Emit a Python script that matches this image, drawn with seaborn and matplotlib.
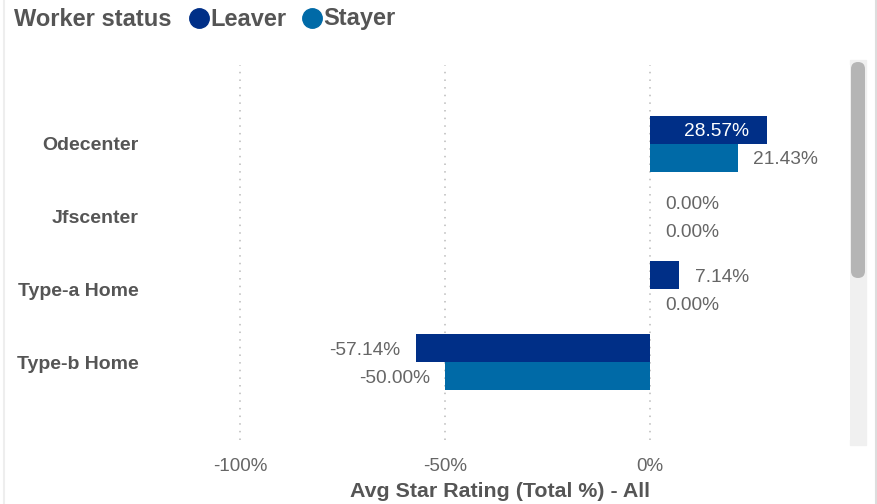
import matplotlib
matplotlib.use("Agg")
import matplotlib.pyplot as plt
from matplotlib.lines import Line2D
from matplotlib.patches import FancyBboxPatch, Rectangle
from matplotlib.transforms import IdentityTransform
import seaborn as sns
import pandas as pd

categories = ["Odecenter", "Jfscenter", "Type-a Home", "Type-b Home"]
leaver = [0.2857, 0.0, 0.0714, -0.5714]
stayer = [0.2143, 0.0, 0.0, -0.5000]
series = ["Leaver", "Stayer"]
colors = ["#002F87", "#006AA7"]
xticks = [-1.0, -0.5, 0.0]
xticklabels = ["-100%", "-50%", "0%"]

df = pd.DataFrame({
    "cat": categories * 2,
    "value": leaver + stayer,
    "status": ["Leaver"] * len(categories) + ["Stayer"] * len(categories),
})

sns.set_theme(style="white")
plt.rcParams["font.family"] = ["Liberation Sans", "DejaVu Sans"]

W, H = 878, 504
fig = plt.figure(figsize=(W / 100, H / 100), dpi=100)
ax = fig.add_axes([150 / W, 1 - 440 / H, 700 / W, 375 / H])

sns.barplot(data=df, y="cat", x="value", hue="status", palette=colors,
            hue_order=series, order=categories, width=0.77, orient="h",
            saturation=1, ax=ax, legend=False, linewidth=0, edgecolor="none")

ax.set_xlim(-1.22, 0.488)
ax.set_ylim(4.07, -1.08)
for s in ax.spines.values():
    s.set_visible(False)
ax.set_xticks(xticks)
ax.set_xticklabels(xticklabels, fontsize=13.5, color="#666666")
ax.tick_params(axis="x", length=0, pad=13)
ax.tick_params(axis="y", length=0, pad=8)
for lab in ax.get_yticklabels():
    lab.set_fontsize(14)
    lab.set_fontweight("bold")
    lab.set_color("#555555")
for xv in xticks:
    ax.axvline(xv, color="#BBBBBB", linestyle=(0, (1, 4)), linewidth=1.1, zorder=0)
ax.set_ylabel("")
ax.set_xlabel("Avg Star Rating (Total %) - All", fontsize=15.4, fontweight="bold",
              color="#555555", labelpad=5)

# data labels
for cont, vals in zip(ax.containers, [leaver, stayer]):
    for patch, v in zip(cont.patches, vals):
        yc = patch.get_y() + patch.get_height() / 2
        txt = f"{v * 100:.2f}%"
        if v > 0.25:
            ax.annotate(txt, (v, yc), xytext=(-13, -1.5), textcoords="offset points",
                        ha="right", va="center", color="white", fontsize=13.8)
        elif v < 0:
            ax.annotate(txt, (v, yc), xytext=(-11, -1.5), textcoords="offset points",
                        ha="right", va="center", color="#666666", fontsize=13.8)
        else:
            ax.annotate(txt, (v, yc), xytext=(11, -1.5), textcoords="offset points",
                        ha="left", va="center", color="#666666", fontsize=13.8)

# legend
ly = 1 - 19 / H
fig.text(14 / W, ly, "Worker status", fontsize=17, fontweight="bold",
         color="#555555", ha="left", va="center")
lx = [199, 312]
for x0, name, c in zip(lx, series, colors):
    fig.add_artist(Line2D([x0 / W], [1 - 18 / H], marker="o", markersize=14,
                          color=c, linestyle="none", transform=fig.transFigure))
    fig.text((x0 + 11) / W, ly, name, fontsize=17, fontweight="bold",
             color="#555555", ha="left", va="center")

# scrollbar
fig.add_artist(Rectangle((850, H - 445), 16, 385, transform=IdentityTransform(),
                         color="#F0F0F0", zorder=0))
fig.add_artist(FancyBboxPatch((851, H - 278), 14, 216,
                              boxstyle="round,pad=0,rounding_size=7",
                              transform=IdentityTransform(), color="#B5B5B5",
                              linewidth=0))
# frame borders
fig.add_artist(Line2D([4 / W, 4 / W], [0, 1], color="#EEEEEE", linewidth=1.5,
                      transform=fig.transFigure))
fig.add_artist(Line2D([876 / W, 876 / W], [0, 1], color="#DDDDDD", linewidth=1.5,
                      transform=fig.transFigure))

fig.savefig("out.png", dpi=100)
